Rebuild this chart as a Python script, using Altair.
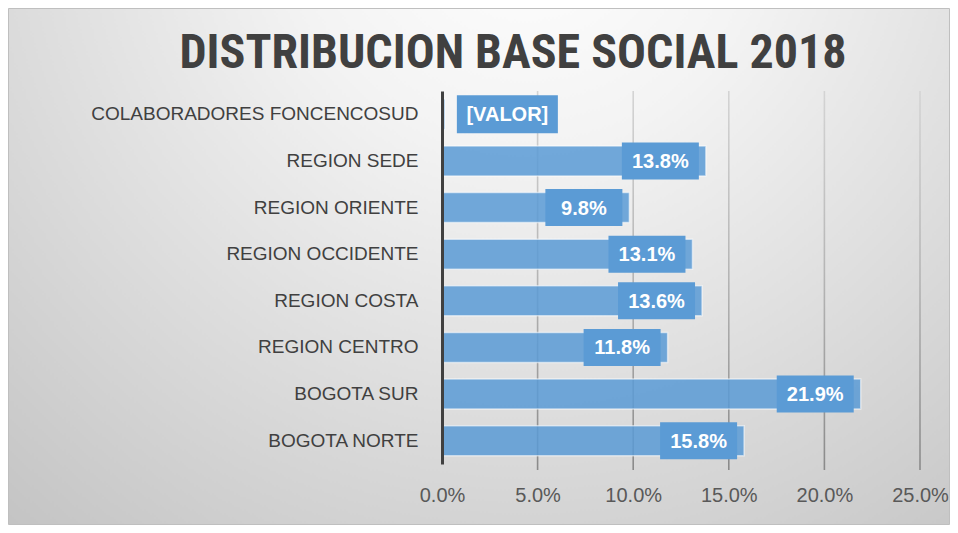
import altair as alt
import pandas as pd

categories = [
    "COLABORADORES FONCENCOSUD",
    "REGION SEDE",
    "REGION ORIENTE",
    "REGION OCCIDENTE",
    "REGION COSTA",
    "REGION CENTRO",
    "BOGOTA SUR",
    "BOGOTA NORTE",
]
values = [0.0015, 0.138, 0.098, 0.131, 0.136, 0.118, 0.219, 0.158]
labels = ["[VALOR]", "13.8%", "9.8%", "13.1%", "13.6%", "11.8%", "21.9%", "15.8%"]
tick_values = [0.0, 0.05, 0.10, 0.15, 0.20, 0.25]
grid_values = [0.05, 0.10, 0.15, 0.20, 0.25]
title_text = "DISTRIBUCION BASE SOCIAL  2018"

W, H = 478, 373
PL, PT, PR, PB = 434, 83, 30, 61

df = pd.DataFrame({"cat": categories, "value": values, "label": labels})
grid_df = pd.DataFrame({"g": grid_values})
bg_df = pd.DataFrame({"a": [0]})
title_df = pd.DataFrame({"t": [title_text]})

BLUE = "#5B9BD5"
OUTSIDE = "COLABORADORES FONCENCOSUD"

xscale = alt.Scale(domain=[0, 0.25], nice=False, zero=True)
yscale = alt.Scale(domain=categories, paddingInner=0.35, paddingOuter=0.175)

bg = alt.Chart(bg_df).mark_rect(
    fill={
        "gradient": "radial",
        "x1": 0.55, "y1": 0.12, "r1": 0.0,
        "x2": 0.55, "y2": 0.12, "r2": 0.85,
        "stops": [
            {"offset": 0.0, "color": "#ffffff"},
            {"offset": 0.3, "color": "#f3f3f3"},
            {"offset": 1.0, "color": "#c4c4c4"},
        ],
    },
    stroke="#bfbfbf",
    strokeWidth=1,
).encode(
    x=alt.value(-PL + 0.5), x2=alt.value(W + PR - 0.5),
    y=alt.value(-PT + 0.5), y2=alt.value(H + PB - 0.5),
)

title = alt.Chart(title_df).mark_text(
    font="Roboto Condensed, Roboto", fontSize=48, fontWeight="bold", color="#404040",
    align="center", baseline="alphabetic",
).encode(x=alt.value(71), y=alt.value(-23), text="t:N")

grid = alt.Chart(grid_df).mark_rect(
    xOffset=-0.8, x2Offset=0.8,
    fill={
        "gradient": "linear",
        "x1": 0, "y1": 0, "x2": 0, "y2": 1,
        "stops": [
            {"offset": 0.0, "color": "#d4d4d4"},
            {"offset": 0.5, "color": "#b4b4b4"},
            {"offset": 1.0, "color": "#8a8a8a"},
        ],
    },
).encode(
    x=alt.X("g:Q", scale=xscale),
    x2="g:Q",
    y=alt.value(0), y2=alt.value(H + 6),
)

base = alt.Chart(df)

bars = base.mark_bar(
    color=BLUE, fillOpacity=0.86, stroke="#ffffff", strokeOpacity=0.55,
    strokeWidth=1.5, size=30,
).encode(
    x=alt.X(
        "value:Q", scale=xscale, title=None,
        axis=alt.Axis(
            values=tick_values, format=".1%", grid=False, domain=False, ticks=False,
            labelFont="Liberation Sans", labelFontSize=20, labelColor="#595959",
            labelPadding=21, labelFlush=False, zindex=1,
        ),
    ),
    y=alt.Y(
        "cat:N", scale=yscale, sort=categories, title=None,
        axis=alt.Axis(
            grid=False, ticks=False, domainColor="#404040", domainWidth=3,
            labelFont="Liberation Sans", labelFontSize=19, labelColor="#404040",
            labelPadding=24, labelLimit=400, zindex=1,
        ),
    ),
)

boxes_in = base.transform_filter(alt.datum.cat != OUTSIDE).mark_bar(
    color=BLUE, size=37, xOffset=-84, x2Offset=-7,
).encode(x=alt.X("value:Q", scale=xscale), x2="value:Q", y=alt.Y("cat:N", scale=yscale, sort=categories))

boxes_out = base.transform_filter(alt.datum.cat == OUTSIDE).mark_bar(
    color=BLUE, size=38, xOffset=12, x2Offset=113,
).encode(x=alt.X("value:Q", scale=xscale), x2="value:Q", y=alt.Y("cat:N", scale=yscale, sort=categories))

text_in = base.transform_filter(alt.datum.cat != OUTSIDE).mark_text(
    align="center", baseline="middle", dx=-45.5, dy=1,
    font="Liberation Sans", fontSize=20, fontWeight="bold", color="#ffffff",
).encode(x=alt.X("value:Q", scale=xscale), y=alt.Y("cat:N", scale=yscale, sort=categories), text="label:N")

text_out = base.transform_filter(alt.datum.cat == OUTSIDE).mark_text(
    align="center", baseline="middle", dx=62.5, dy=1,
    font="Liberation Sans", fontSize=20, fontWeight="bold", color="#ffffff",
).encode(x=alt.X("value:Q", scale=xscale), y=alt.Y("cat:N", scale=yscale, sort=categories), text="label:N")

chart = alt.layer(bg, title, grid, bars, boxes_in, boxes_out, text_in, text_out).properties(
    width=W, height=H,
    autosize=alt.AutoSizeParams(type="none"),
    padding={"left": PL, "top": PT, "right": PR, "bottom": PB},
).configure_view(stroke=None).configure(background="#ffffff")

chart.save("out.html", embed_options={"renderer": "svg", "actions": False})
